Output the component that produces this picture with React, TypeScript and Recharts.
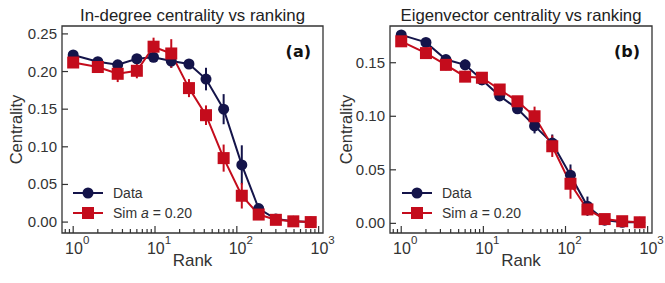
import React from 'react';
import { ComposedChart, Line, XAxis, YAxis, ErrorBar, ReferenceArea, Legend, Customized } from 'recharts';

const ranks = [1, 2, 3.5, 6, 9.6, 15.8, 26, 42, 69, 115, 185, 300, 490, 800];

const inDegData = [0.222, 0.213, 0.209, 0.217, 0.219, 0.214, 0.210, 0.190, 0.150, 0.076, 0.018, 0.004, 0.001, 0.000];
const inDegDataErr = [0.003, 0.002, 0.003, 0.003, 0.003, 0.009, 0.005, 0.015, 0.02, 0.026, 0.005, 0.002, 0.001, 0.001];
const inDegSim = [0.212, 0.206, 0.197, 0.201, 0.233, 0.224, 0.178, 0.142, 0.085, 0.035, 0.010, 0.003, 0.001, 0.000];
const inDegSimErr = [0.003, 0.003, 0.011, 0.01, 0.012, 0.019, 0.012, 0.013, 0.018, 0.017, 0.005, 0.002, 0.001, 0.001];

const eigData = [0.176, 0.169, 0.153, 0.148, 0.134, 0.119, 0.107, 0.091, 0.075, 0.045, 0.016, 0.003, 0.001, 0.001];
const eigDataErr = [0.002, 0.002, 0.003, 0.005, 0.005, 0.003, 0.003, 0.007, 0.008, 0.01, 0.009, 0.002, 0.001, 0.001];
const eigSim = [0.170, 0.159, 0.148, 0.137, 0.136, 0.125, 0.114, 0.100, 0.072, 0.037, 0.013, 0.004, 0.002, 0.001];
const eigSimErr = [0.002, 0.002, 0.005, 0.005, 0.004, 0.004, 0.004, 0.009, 0.01, 0.014, 0.005, 0.002, 0.001, 0.001];

const inDegTicks = [0, 0.05, 0.1, 0.15, 0.2, 0.25];
const eigTicks = [0, 0.05, 0.1, 0.15];
const majorX = [1, 10, 100, 1000];
const minorX = [0.8, 0.9, 2, 3, 4, 5, 6, 7, 8, 9, 20, 30, 40, 50, 60, 70, 80, 90, 200, 300, 400, 500, 600, 700, 800, 900];

const NAVY = '#14144a';
const RED = '#c40c1c';
const FRAME = '#333333';
const TXT = '#333333';
const FONT = 'Liberation Sans, Arial, sans-serif';

const build = (d: number[], de: number[], s: number[], se: number[]) =>
  ranks.map((r, i) => ({ rank: r, data: d[i], dataErr: de[i], sim: s[i], simErr: se[i] }));

const CircleDot = (p: any) => {
  if (p.cx == null || p.cy == null) return null;
  return <circle cx={p.cx} cy={p.cy} r={5.5} fill={NAVY} stroke="none" />;
};
const SquareDot = (p: any) => {
  if (p.cx == null || p.cy == null) return null;
  return <rect x={p.cx - 6} y={p.cy - 6} width={12} height={12} fill={RED} stroke="none" />;
};

const XTick = (p: any) => {
  const v = p.payload.value;
  const major = majorX.includes(v);
  const exp = Math.round(Math.log10(v));
  return (
    <g>
      <line x1={p.x} x2={p.x} y1={p.y} y2={p.y - (major ? 7 : 4)} stroke={FRAME} strokeWidth={1.2} />
      {major && (
        <text x={p.x + 4} y={p.y + 21} textAnchor="middle" fontFamily={FONT} fontSize={16} fill={TXT}>
          10<tspan fontSize={11.5} dy={-10}>{exp}</tspan>
        </text>
      )}
    </g>
  );
};

const YTick = (p: any) => (
  <g>
    <line x1={p.x} x2={p.x + 6} y1={p.y} y2={p.y} stroke={FRAME} strokeWidth={1.2} />
    <text x={p.x - 5} y={p.y + 5} textAnchor="end" fontFamily={FONT} fontSize={15} fill={TXT}>
      {Number(p.payload.value).toFixed(2)}
    </text>
  </g>
);

const LegendContent = () => (
  <svg width={130} height={42} style={{ display: 'block' }}>
    <line x1={0} x2={30} y1={10} y2={10} stroke={NAVY} strokeWidth={2} />
    <circle cx={15} cy={10} r={5.5} fill={NAVY} />
    <text x={40} y={15} fontFamily={FONT} fontSize={14} fill={TXT}>Data</text>
    <line x1={0} x2={30} y1={30} y2={30} stroke={RED} strokeWidth={2} />
    <rect x={9} y={24} width={12} height={12} fill={RED} />
    <text x={40} y={35} fontFamily={FONT} fontSize={14} fill={TXT}>
      Sim <tspan fontStyle="italic">a</tspan> = 0.20
    </text>
  </svg>
);

type PanelProps = {
  width: number;
  data: any[];
  yDomain: [number, number];
  yTicks: number[];
  title: string;
  titleLen: number;
  tag: string;
  marginLeft: number;
  marginRight: number;
  legendLeft: number;
  ylabelX: number;
};

const xDomain: [number, number] = [0.73, 1130];

const Panel = ({ width, data, yDomain, yTicks, title, titleLen, tag, marginLeft, marginRight, legendLeft, ylabelX }: PanelProps) => {
  const top = 26;
  const bottom = 233;
  const plotLeft = marginLeft + 50;
  const plotRight = width - marginRight;
  const cx = (plotLeft + plotRight) / 2;
  return (
    <ComposedChart width={width} height={283} data={data} margin={{ top, right: marginRight, bottom: 283 - bottom - 45, left: marginLeft }}>
      <XAxis
        dataKey="rank"
        type="number"
        scale="log"
        domain={xDomain}
        allowDataOverflow
        ticks={[...majorX, ...minorX].sort((a, b) => a - b)}
        interval={0}
        tick={<XTick />}
        tickLine={false}
        axisLine={false}
        tickSize={0}
        tickMargin={0}
        height={45}
      />
      <YAxis
        type="number"
        domain={yDomain}
        allowDataOverflow
        ticks={yTicks}
        interval={0}
        tick={<YTick />}
        tickLine={false}
        axisLine={false}
        tickSize={0}
        tickMargin={0}
        width={50}
      />
      <ReferenceArea x1={xDomain[0]} x2={xDomain[1]} y1={yDomain[0]} y2={yDomain[1]} fill="none" stroke={FRAME} strokeWidth={1.3} ifOverflow="visible" />
      <Line dataKey="data" type="linear" stroke={NAVY} strokeWidth={2} dot={<CircleDot />} activeDot={false} isAnimationActive={false}>
        <ErrorBar dataKey="dataErr" direction="y" width={0} stroke={NAVY} strokeWidth={2} />
      </Line>
      <Line dataKey="sim" type="linear" stroke={RED} strokeWidth={2} dot={<SquareDot />} activeDot={false} isAnimationActive={false}>
        <ErrorBar dataKey="simErr" direction="y" width={0} stroke={RED} strokeWidth={2} />
      </Line>
      <Legend
        layout="vertical"
        align="center"
        verticalAlign="middle"
        content={<LegendContent />}
        wrapperStyle={{ position: 'absolute', left: legendLeft, top: 183, width: 130, height: 42 }}
      />
      <Customized
        component={() => (
          <g>
            <text x={cx} y={21} textAnchor="middle" fontFamily={FONT} fontSize={16.5} fill="#222" textLength={titleLen} lengthAdjust="spacingAndGlyphs">{title}</text>
            <text x={plotRight - 12} y={57} textAnchor="end" fontFamily="DejaVu Sans, sans-serif" fontWeight="bold" fontSize={16} fill="#111">{tag}</text>
            <text x={cx} y={266} textAnchor="middle" fontFamily={FONT} fontSize={17} fill={TXT}>Rank</text>
            <text x={0} y={0} transform={`translate(${ylabelX}, ${(top + bottom) / 2}) rotate(-90)`} textAnchor="middle" fontFamily={FONT} fontSize={16.5} fill={TXT}>Centrality</text>
          </g>
        )}
      />
    </ComposedChart>
  );
};

export default function App() {
  const a = build(inDegData, inDegDataErr, inDegSim, inDegSimErr);
  const b = build(eigData, eigDataErr, eigSim, eigSimErr);
  return (
    <div style={{ position: 'absolute', left: 0, top: 0, width: 665, height: 283, background: '#fff' }}>
      <div style={{ position: 'absolute', left: 0, top: 0 }}>
        <Panel width={335} data={a} yDomain={[-0.0145, 0.2605]} yTicks={inDegTicks} title="In-degree centrality vs ranking" titleLen={225} tag="(a)" marginLeft={12} marginRight={12} legendLeft={73} ylabelX={22} />
      </div>
      <div style={{ position: 'absolute', left: 335, top: 0 }}>
        <Panel width={330} data={b} yDomain={[-0.009, 0.1843]} yTicks={eigTicks} title="Eigenvector centrality vs ranking" titleLen={241} tag="(b)" marginLeft={5} marginRight={13} legendLeft={67} ylabelX={17} />
      </div>
    </div>
  );
}
